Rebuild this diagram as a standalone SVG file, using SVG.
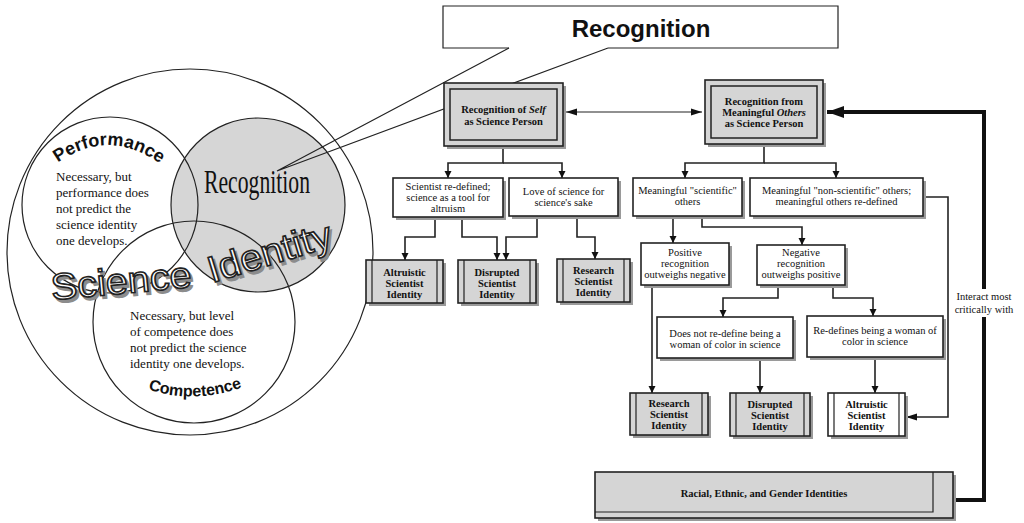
<svg xmlns="http://www.w3.org/2000/svg" width="1024" height="523" viewBox="0 0 1024 523">
<defs>
<style>
.ln{fill:none;stroke:#222;stroke-width:1.2}
.cn{fill:none;stroke:#222;stroke-width:1.6}
.sh{fill:#9a9a9a;stroke:none}
.gb{fill:#d5d5d5;stroke:#222;stroke-width:1.6}
.wb{fill:#fff;stroke:#222;stroke-width:1.6}
.t{font-family:"Liberation Serif","Times New Roman",serif;font-size:10.5px;fill:#111;text-anchor:middle}
.tb{font-family:"Liberation Serif","Times New Roman",serif;font-size:10.5px;font-weight:bold;fill:#111;text-anchor:middle}
.vb{font-family:"Liberation Serif","Times New Roman",serif;font-size:13px;fill:#111}
.arc{font-family:"Liberation Sans",Arial,sans-serif;font-weight:bold;fill:#111}
.big{font-family:"Liberation Sans",Arial,sans-serif;font-size:37px}
</style>
<marker id="ah" markerUnits="userSpaceOnUse" markerWidth="8" markerHeight="12" refX="7" refY="5" orient="auto-start-reverse" viewBox="0 0 8 10">
<path d="M0,1.5 L7,5 L0,8.5 Z" fill="#111"/>
</marker>
<marker id="ahv" markerUnits="userSpaceOnUse" markerWidth="12" markerHeight="8" refX="11" refY="4" orient="auto-start-reverse" viewBox="0 0 12 8">
<path d="M0,0.5 L11,4 L0,7.5 Z" fill="#111"/>
</marker>
<marker id="ahk" markerUnits="userSpaceOnUse" markerWidth="18" markerHeight="12" refX="17" refY="6" orient="auto" viewBox="0 0 18 12">
<path d="M0,0 L17,6 L0,12 Z" fill="#111"/>
</marker>
</defs>
<rect width="1024" height="523" fill="#fff"/>

<!-- Venn diagram -->
<g id="venn">
<circle cx="190" cy="252" r="183" class="ln"/>
<circle cx="258" cy="205" r="87" fill="#d6d6d6" stroke="#222" stroke-width="1.2"/>
<circle cx="110" cy="205" r="88" class="ln"/>
<circle cx="194" cy="322" r="101" class="ln"/>
<path id="perfArc" d="M56 164 Q108 126 162 165" fill="none"/>
<text class="arc" font-size="18"><textPath href="#perfArc" startOffset="50%" text-anchor="middle">Performance</textPath></text>
<text class="vb" x="56"><tspan x="56" y="181">Necessary, but</tspan><tspan x="56" y="197">performance does</tspan><tspan x="56" y="213">not predict the</tspan><tspan x="56" y="229">science identity</tspan><tspan x="56" y="245">one develops.</tspan></text>
<text x="204" y="193" font-family="Liberation Serif,Times New Roman,serif" font-size="34" fill="#111" textLength="106" lengthAdjust="spacingAndGlyphs">Recognition</text>
<text class="vb"><tspan x="130" y="320">Necessary, but level</tspan><tspan x="130" y="336">of competence does</tspan><tspan x="130" y="352">not predict the science</tspan><tspan x="130" y="368">identity one develops.</tspan></text>
<path id="compArc" d="M147 389 Q195 405 243 387" fill="none"/>
<text class="arc" font-size="16"><textPath href="#compArc" startOffset="50%" text-anchor="middle">Competence</textPath></text>
<g class="big">
<text x="54.5" y="303" transform="rotate(-5.3 54.5 303)" textLength="141" lengthAdjust="spacingAndGlyphs" fill="#8c8c8c" stroke="#8c8c8c" stroke-width="1.5">Science</text>
<text x="214.5" y="286" transform="rotate(-17 214.5 286)" textLength="128" lengthAdjust="spacingAndGlyphs" fill="#8c8c8c" stroke="#8c8c8c" stroke-width="1.5">Identity</text>
<text x="52" y="300" transform="rotate(-5.3 52 300)" textLength="141" lengthAdjust="spacingAndGlyphs" fill="#fff" stroke="#222" stroke-width="1.6">Science</text>
<text x="212" y="283" transform="rotate(-17 212 283)" textLength="128" lengthAdjust="spacingAndGlyphs" fill="#fff" stroke="#222" stroke-width="1.6">Identity</text>
</g>
</g>

<!-- Callout -->
<g id="callout">
<rect x="443" y="6" width="395" height="42" fill="#fff"/>
<path d="M509 48 H443 V6 H838 V48 H608" class="ln"/>
<path d="M509 48 L277 171 L608 48" class="ln"/>
<text x="641" y="37" font-family="Liberation Sans,Arial,sans-serif" font-size="24" font-weight="bold" fill="#111" text-anchor="middle">Recognition</text>
</g>

<!-- Connectors -->
<g id="connectors">
<line x1="566" y1="112" x2="702" y2="112" class="ln" marker-start="url(#ahv)" marker-end="url(#ahv)"/>
<path d="M503 146 V163 H448 V178" class="cn" marker-end="url(#ah)"/>
<path d="M503 163 H562 V178" class="cn" marker-end="url(#ah)"/>
<path d="M764 144 V163 H685 V178" class="cn" marker-end="url(#ah)"/>
<path d="M764 163 H836 V178" class="cn" marker-end="url(#ah)"/>
<path d="M435 217 V237 H405 V260" class="cn" marker-end="url(#ah)"/>
<path d="M462 217 V237 H497 V260" class="cn" marker-end="url(#ah)"/>
<path d="M537 216 V237 H506 V260" class="cn" marker-end="url(#ah)"/>
<path d="M577 216 V237 H595 V259" class="cn" marker-end="url(#ah)"/>
<path d="M673 216 V243" class="cn" marker-end="url(#ah)"/>
<path d="M702 216 V227 H802 V245" class="cn" marker-end="url(#ah)"/>
<path d="M923 197 H948 V417 H906" class="cn" marker-end="url(#ahv)"/>
<path d="M652 285 V393" class="cn" marker-end="url(#ah)"/>
<path d="M778 285 V298 H723 V317" class="cn" marker-end="url(#ah)"/>
<path d="M833 285 V298 H873 V316" class="cn" marker-end="url(#ah)"/>
<path d="M760 358 V393" class="cn" marker-end="url(#ah)"/>
<path d="M875 357 V393" class="cn" marker-end="url(#ah)"/>
<path d="M953 500 H984 V112 H827" fill="none" stroke="#111" stroke-width="4" marker-end="url(#ahk)"/>
<rect x="950" y="289" width="68" height="28" fill="#fff"/>
<text class="t" x="984" y="300" font-size="10">Interact most</text>
<text class="t" x="984" y="313" font-size="10">critically with</text>
</g>

<!-- Top boxes -->
<g id="self">
<rect x="447" y="86" width="119" height="63" class="sh"/>
<rect x="444" y="83" width="119" height="63" class="gb" stroke-width="2.2"/>
<rect x="450" y="89" width="107" height="51" fill="none" stroke="#222" stroke-width="1.5"/>
<text class="tb" x="503.5" y="113">Recognition of <tspan font-style="italic">Self</tspan></text>
<text class="tb" x="503.5" y="125">as Science Person</text>
</g>
<g id="others">
<rect x="708" y="83" width="118" height="64" class="sh"/>
<rect x="705" y="80" width="118" height="64" class="gb" stroke-width="2.2"/>
<rect x="711" y="86" width="106" height="52" fill="none" stroke="#222" stroke-width="1.5"/>
<text class="tb" x="764" y="105">Recognition from</text>
<text class="tb" x="764" y="116">Meaningful <tspan font-style="italic">Others</tspan></text>
<text class="tb" x="764" y="127">as Science Person</text>
</g>

<!-- Second-level boxes -->
<g id="redefined">
<rect x="396" y="181" width="110" height="39" class="sh"/>
<rect x="393" y="178" width="110" height="39" class="wb"/>
<text class="t" x="448" y="190">Scientist re-defined;</text>
<text class="t" x="448" y="201">science as a tool for</text>
<text class="t" x="448" y="212">altruism</text>
</g>
<g id="love">
<rect x="512" y="181" width="109" height="38" class="sh"/>
<rect x="509" y="178" width="109" height="38" class="wb"/>
<text class="t" x="563.5" y="195">Love of science for</text>
<text class="t" x="563.5" y="206">science's sake</text>
</g>
<g id="scientific">
<rect x="636" y="181" width="109" height="38" class="sh"/>
<rect x="633" y="178" width="109" height="38" class="wb"/>
<text class="t" x="687.5" y="194">Meaningful "scientific"</text>
<text class="t" x="687.5" y="205">others</text>
</g>
<g id="nonscientific">
<rect x="753" y="181" width="173" height="38" class="sh"/>
<rect x="750" y="178" width="173" height="38" class="wb"/>
<text class="t" x="836.5" y="194">Meaningful "non-scientific" others;</text>
<text class="t" x="836.5" y="205">meaningful others re-defined</text>
</g>
<g id="positive">
<rect x="644" y="246" width="88" height="42" class="sh"/>
<rect x="641" y="243" width="88" height="42" class="wb"/>
<text class="t" x="685" y="256">Positive</text>
<text class="t" x="685" y="267">recognition</text>
<text class="t" x="685" y="278">outweighs negative</text>
</g>
<g id="negative">
<rect x="760" y="248" width="88" height="40" class="sh"/>
<rect x="757" y="245" width="88" height="40" class="wb"/>
<text class="t" x="801" y="256">Negative</text>
<text class="t" x="801" y="267">recognition</text>
<text class="t" x="801" y="278">outweighs positive</text>
</g>
<g id="doesnot">
<rect x="660" y="320" width="136" height="41" class="sh"/>
<rect x="657" y="317" width="136" height="41" class="wb"/>
<text class="t" x="725" y="337">Does not re-define being a</text>
<text class="t" x="725" y="348">woman of color in science</text>
</g>
<g id="redefines">
<rect x="810" y="319" width="136" height="41" class="sh"/>
<rect x="807" y="316" width="136" height="41" class="wb"/>
<text class="t" x="875" y="334">Re-defines being a woman of</text>
<text class="t" x="875" y="345">color in science</text>
</g>

<!-- Identity boxes left -->
<g id="altruistic1">
<rect x="369" y="263" width="77" height="43" class="sh"/>
<rect x="366" y="260" width="77" height="43" class="gb"/>
<path d="M372 260 V303 M437 260 V303" class="ln"/>
<text class="tb" x="404.5" y="276">Altruistic</text>
<text class="tb" x="404.5" y="287">Scientist</text>
<text class="tb" x="404.5" y="298">Identity</text>
</g>
<g id="disrupted1">
<rect x="461" y="263" width="78" height="43" class="sh"/>
<rect x="458" y="260" width="78" height="43" class="gb"/>
<path d="M464 260 V303 M530 260 V303" class="ln"/>
<text class="tb" x="497" y="276">Disrupted</text>
<text class="tb" x="497" y="287">Scientist</text>
<text class="tb" x="497" y="298">Identity</text>
</g>
<g id="research1">
<rect x="560" y="262" width="73" height="43" class="sh"/>
<rect x="557" y="259" width="73" height="43" class="gb"/>
<path d="M563 259 V302 M624 259 V302" class="ln"/>
<text class="tb" x="593.5" y="274">Research</text>
<text class="tb" x="593.5" y="285">Scientist</text>
<text class="tb" x="593.5" y="296">Identity</text>
</g>

<!-- Identity boxes right -->
<g id="research2">
<rect x="633" y="396" width="78" height="42" class="sh"/>
<rect x="630" y="393" width="78" height="42" class="gb"/>
<path d="M636 393 V435 M702 393 V435" class="ln"/>
<text class="tb" x="669" y="407">Research</text>
<text class="tb" x="669" y="418">Scientist</text>
<text class="tb" x="669" y="429">Identity</text>
</g>
<g id="disrupted2">
<rect x="733" y="396" width="80" height="43" class="sh"/>
<rect x="730" y="393" width="80" height="43" class="gb"/>
<path d="M736 393 V436 M804 393 V436" class="ln"/>
<text class="tb" x="770" y="408">Disrupted</text>
<text class="tb" x="770" y="419">Scientist</text>
<text class="tb" x="770" y="430">Identity</text>
</g>
<g id="altruistic2">
<rect x="831" y="396" width="77" height="43" class="sh"/>
<rect x="828" y="393" width="77" height="43" class="wb"/>
<path d="M834 393 V436 M899 393 V436" class="ln"/>
<text class="tb" x="866.5" y="408">Altruistic</text>
<text class="tb" x="866.5" y="419">Scientist</text>
<text class="tb" x="866.5" y="430">Identity</text>
</g>

<!-- Racial box -->
<g id="racial">
<rect x="598" y="475" width="358" height="46" class="sh"/>
<rect x="595" y="472" width="358" height="46" class="gb"/>
<path d="M595 512 H933 V472" class="ln"/>
<text class="tb" x="764" y="497" font-size="12">Racial, Ethnic, and Gender Identities</text>
</g>
</svg>
